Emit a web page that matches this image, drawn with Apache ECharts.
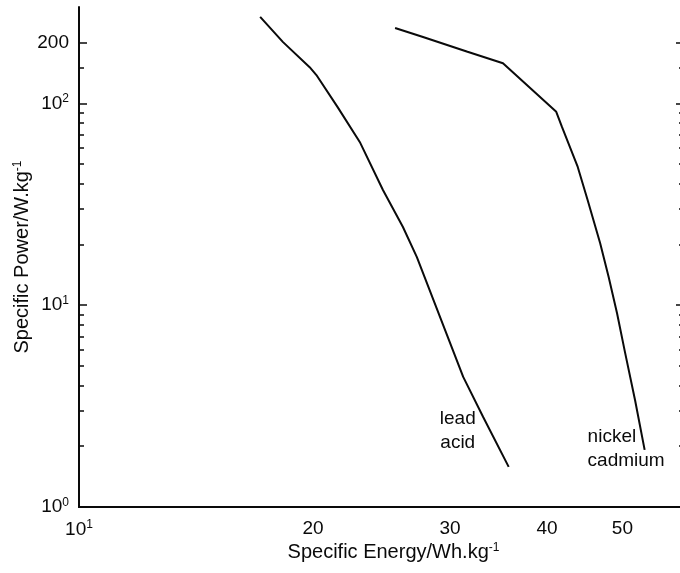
<!DOCTYPE html>
<html>
<head>
<meta charset="utf-8">
<script src="https://cdn.jsdelivr.net/npm/echarts@6/dist/echarts.min.js"></script>
<style>
  html, body { margin: 0; padding: 0; background: #fff; }
  #chart { width: 680px; height: 573px; }
</style>
</head>
<body>
<div id="chart"></div>
<script>
// values
const leadAcidEnergy = [17.1, 18.3, 19.8, 20.2, 21.5, 23.0, 24.6, 26.1, 27.2, 31.2, 33.1, 35.7]
const leadAcidPower = [268, 201, 151, 138, 96, 63.7, 37.2, 24.4, 17.3, 4.41, 2.79, 1.58]
const nickelCadmiumEnergy = [25.5, 27.7, 31.6, 35.1, 41.1, 41.8, 43.8, 45.1, 46.8, 48.0, 49.2, 50.4, 51.9, 53.4]
const nickelCadmiumPower = [236, 213, 180, 158, 90.7, 76.4, 48.4, 33.2, 20.3, 13.8, 9.15, 5.8, 3.39, 1.92]

const xTicks = [10, 20, 30, 40, 50]
const yMajorTicks = [1, 10, 100, 200]
const yMinorTicks = [2, 3, 4, 5, 6, 7, 8, 9, 20, 30, 40, 50, 60, 70, 80, 90, 150]
const xRange = [10, 60]
const yRange = [1, 300]

const log = Math.log10
const ink = '#0a0a0a'
const font = 'Liberation Sans, Arial, sans-serif'

const rich = {
  b: { fontSize: 19, fontFamily: font, color: ink },
  s: { fontSize: 12, fontFamily: font, color: ink, padding: [0, 0, 9, 0] },
}

function powLabel(value) {
  const v = Math.round(Math.pow(10, value))
  if (v === 1) return '{b|10}{s|0}'
  if (v === 10) return '{b|10}{s|1}'
  if (v === 100) return '{b|10}{s|2}'
  return '{b|' + v + '}'
}

function pairs(xs, ys) {
  return xs.map((x, i) => [log(x), log(ys[i])])
}

const chart = echarts.init(document.getElementById('chart'))

function yAxis(position, ticks, length, labels) {
  return {
    type: 'value',
    position,
    min: log(yRange[0]),
    max: log(yRange[1]),
    axisLine: { show: position === 'left' && labels, lineStyle: { color: ink, width: 2 } },
    axisTick: {
      show: true,
      inside: true,
      length,
      customValues: ticks.map(log),
      lineStyle: { color: ink, width: 1.5 },
    },
    axisLabel: labels
      ? { show: true, margin: 10, customValues: yMajorTicks.map(log), formatter: powLabel, rich }
      : { show: false },
    splitLine: { show: false },
    name: labels ? '{b|Specific Power/W.kg}{s|-1}' : '',
    nameLocation: 'middle',
    nameGap: 46,
    nameMoveOverlap: false,
    nameTextStyle: { rich: { b: { fontSize: 20, fontFamily: font, color: ink }, s: rich.s } },
  }
}

const noteLabel = {
  show: true,
  position: [0, 0],
  verticalAlign: 'middle',
  fontSize: 19,
  lineHeight: 24,
  fontFamily: font,
  color: ink,
}

chart.setOption({
  animation: false,
  grid: { left: 79, right: -4, top: 7, bottom: 66, containLabel: false, outerBoundsMode: 'none' },
  xAxis: [
    {
      type: 'value',
      min: log(xRange[0]),
      max: log(xRange[1]),
      axisLine: { lineStyle: { color: ink, width: 2 } },
      axisTick: { show: false },
      axisLabel: { margin: 12, customValues: xTicks.map(log), formatter: powLabel, rich },
      splitLine: { show: false },
      name: '{b|Specific Energy/Wh.kg}{s|-1}',
      nameLocation: 'middle',
      nameGap: 35,
      nameMoveOverlap: false,
      nameTextStyle: {
        padding: [0, 0, 0, 24],
        rich: { b: { fontSize: 20, fontFamily: font, color: ink }, s: rich.s },
      },
    },
    {
      type: 'value',
      position: 'top',
      min: log(xRange[0]),
      max: log(xRange[1]),
      axisLine: { lineStyle: { color: ink, width: 2 } },
      axisTick: { show: false },
      axisLabel: { show: false },
      splitLine: { show: false },
    },
  ],
  yAxis: [
    yAxis('left', yMajorTicks, 8, true),
    yAxis('left', yMinorTicks, 5, false),
    yAxis('right', yMajorTicks, 8, false),
    yAxis('right', yMinorTicks, 5, false),
  ],
  series: [
    {
      name: 'lead acid',
      type: 'line',
      data: pairs(leadAcidEnergy, leadAcidPower),
      showSymbol: false,
      lineStyle: { color: ink, width: 2 },
    },
    {
      name: 'nickel cadmium',
      type: 'line',
      data: pairs(nickelCadmiumEnergy, nickelCadmiumPower),
      showSymbol: false,
      lineStyle: { color: ink, width: 2 },
    },
    {
      type: 'scatter',
      symbolSize: 0,
      silent: true,
      itemStyle: { color: ink, opacity: 1 },
      data: [
        { value: [log(30.7), log(2.38)], label: { ...noteLabel, formatter: 'lead\nacid', align: 'center' } },
        { value: [log(45.1), log(1.94)], label: { ...noteLabel, formatter: 'nickel\ncadmium', align: 'left' } },
      ],
      label: noteLabel,
    },
  ],
})
</script>
</body>
</html>
